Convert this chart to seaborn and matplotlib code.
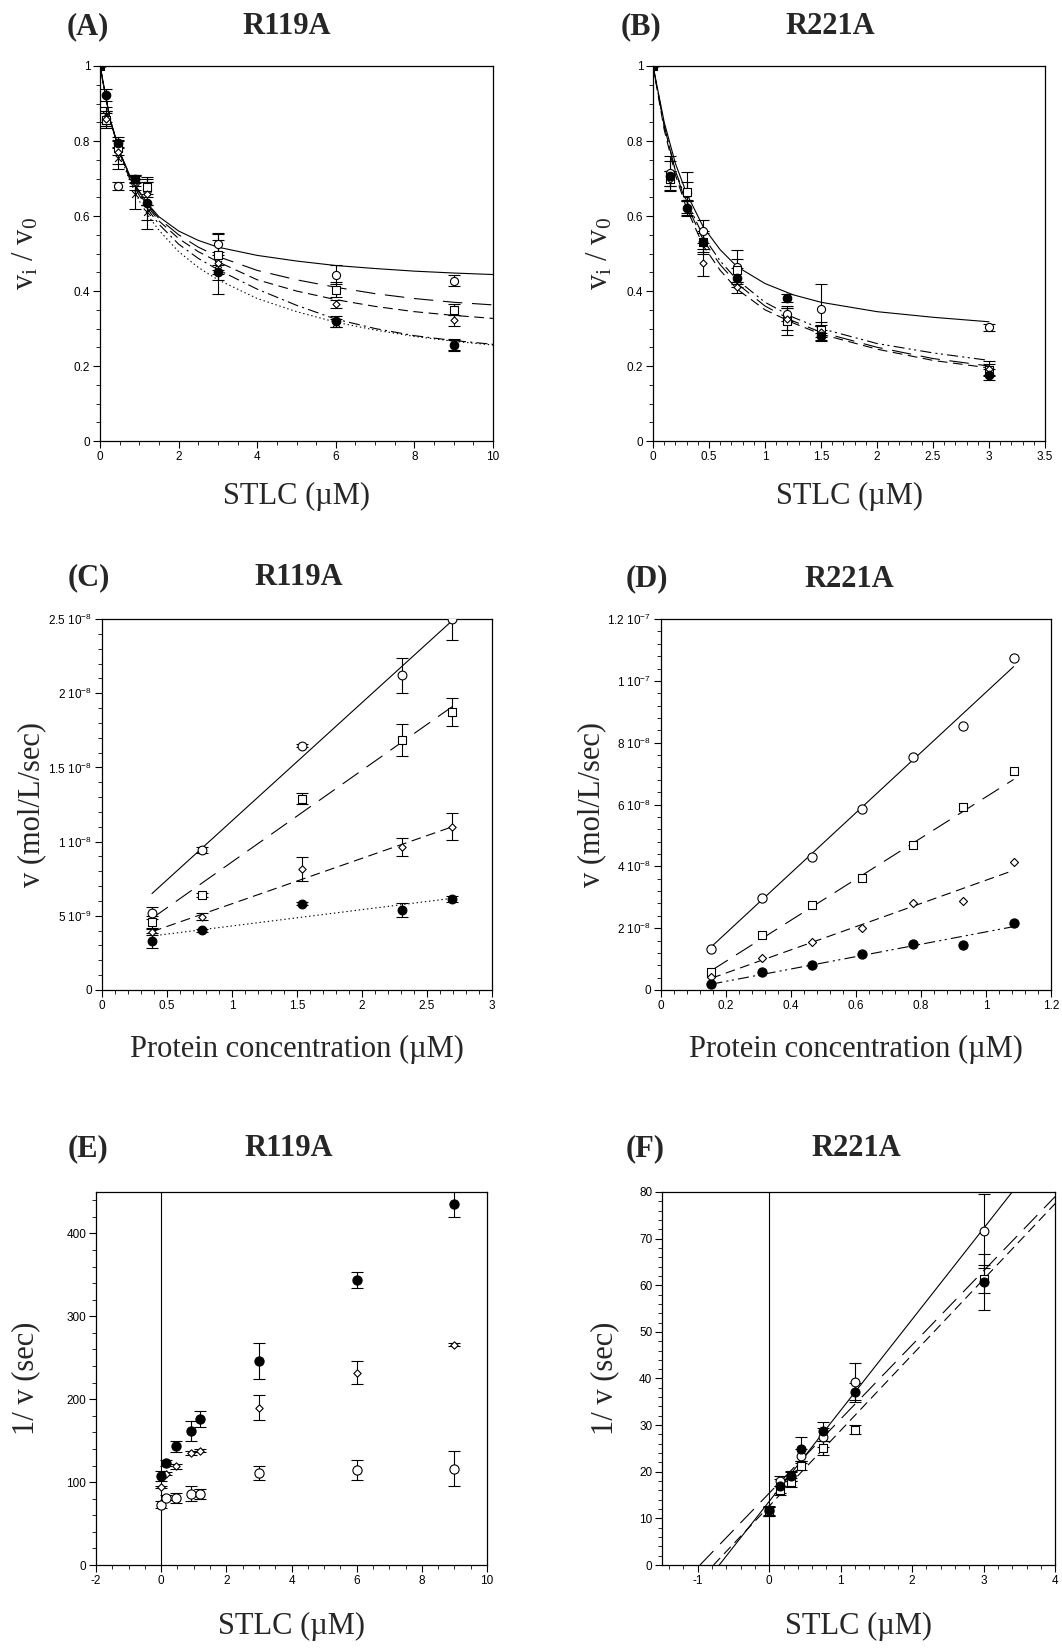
import numpy as np
import matplotlib
matplotlib.use("Agg")
import matplotlib.pyplot as plt
import seaborn as sns
from matplotlib.ticker import MultipleLocator

# ---------------- data ----------------
# (A) R119A  vi/v0 vs STLC
a_x = [0, 0.15, 0.45, 0.9, 1.2, 3, 6, 9]
a_circle = [1, 0.86, 0.68, 0.69, 0.67, 0.526, 0.444, 0.428]
a_circle_err = [0, 0.02, 0.01, 0.02, 0.02, 0.03, 0.025, 0.015]
a_square = [1, 0.855, 0.782, 0.698, 0.678, 0.495, 0.404, 0.35]
a_square_err = [0, 0.02, 0.02, 0.01, 0.02, 0.04, 0.02, 0.015]
a_diamond = [1, 0.86, 0.77, 0.69, 0.66, 0.475, 0.366, 0.322]
a_diamond_err = [0, 0.02, 0.03, 0.01, 0.03, 0.03, 0.01, 0.015]
a_filled = [1, 0.923, 0.796, 0.70, 0.635, 0.45, 0.319, 0.257]
a_filled_err = [0, 0.015, 0.015, 0.01, 0.07, 0.02, 0.015, 0.015]
a_cross = [1, 0.87, 0.755, 0.66, 0.61, 0.473, 0.315, 0.255]
a_cross_err = [0, 0.02, 0.03, 0.04, 0.02, 0.08, 0.01, 0.015]
# fitted curves
a_fit_x = [0, 0.25, 0.5, 0.75, 1, 1.25, 1.5, 2, 2.5, 3, 4, 5, 6, 7, 8, 9, 10]
a_fit_solid = [1, 0.86, 0.77, 0.71, 0.665, 0.628, 0.598, 0.56, 0.535, 0.517, 0.495, 0.48, 0.468, 0.46, 0.453, 0.448, 0.444]
a_fit_long = [1, 0.86, 0.77, 0.71, 0.663, 0.625, 0.593, 0.55, 0.517, 0.492, 0.455, 0.43, 0.41, 0.393, 0.38, 0.37, 0.363]
a_fit_dash = [1, 0.86, 0.77, 0.705, 0.66, 0.62, 0.587, 0.54, 0.505, 0.478, 0.43, 0.40, 0.377, 0.359, 0.345, 0.335, 0.327]
a_fit_dashdot = [1, 0.86, 0.77, 0.70, 0.655, 0.613, 0.578, 0.525, 0.487, 0.457, 0.405, 0.362, 0.325, 0.30, 0.281, 0.268, 0.258]
a_fit_dot = [1, 0.86, 0.765, 0.695, 0.64, 0.597, 0.562, 0.505, 0.463, 0.43, 0.38, 0.345, 0.317, 0.296, 0.279, 0.266, 0.256]

# (B) R221A  vi/v0 vs STLC
b_x = [0, 0.15, 0.3, 0.45, 0.75, 1.2, 1.5, 3]
b_circle = [1, 0.715, 0.662, 0.559, 0.465, 0.34, 0.353, 0.303]
b_circle_err = [0, 0.045, 0.055, 0.03, 0.045, 0.02, 0.065, 0.01]
b_square = [1, 0.70, 0.665, 0.53, 0.455, 0.319, 0.297, 0.19]
b_square_err = [0, 0.02, 0.025, 0.03, 0.03, 0.035, 0.02, 0.015]
b_diamond = [1, 0.70, 0.62, 0.476, 0.41, 0.325, 0.29, 0.193]
b_diamond_err = [0, 0.02, 0.02, 0.035, 0.015, 0.03, 0.02, 0.02]
b_filled = [1, 0.706, 0.622, 0.53, 0.436, 0.382, 0.281, 0.177]
b_filled_err = [0, 0.04, 0.02, 0.025, 0.025, 0.01, 0.015, 0.015]
b_fit_x = [0, 0.1, 0.2, 0.3, 0.45, 0.6, 0.75, 1, 1.25, 1.5, 2, 2.5, 3]
b_fit_solid = [1, 0.85, 0.74, 0.66, 0.57, 0.51, 0.465, 0.42, 0.39, 0.37, 0.345, 0.33, 0.318]
b_fit_long = [1, 0.84, 0.72, 0.63, 0.535, 0.47, 0.42, 0.36, 0.32, 0.29, 0.25, 0.22, 0.20]
b_fit_dash = [1, 0.83, 0.71, 0.62, 0.52, 0.455, 0.405, 0.35, 0.315, 0.285, 0.245, 0.215, 0.195]
b_fit_dashdot = [1, 0.84, 0.72, 0.64, 0.545, 0.48, 0.43, 0.37, 0.33, 0.30, 0.26, 0.235, 0.215]

# (C) R119A  v vs protein concentration
c_x = [0.385, 0.77, 1.54, 2.31, 2.695]
c_circle = [5.2e-9, 9.43e-9, 16.46e-9, 21.2e-9, 25.0e-9]
c_circle_err = [0.4e-9, 0.2e-9, 0.1e-9, 1.2e-9, 1.4e-9]
c_square = [4.6e-9, 6.4e-9, 12.9e-9, 16.85e-9, 18.75e-9]
c_square_err = [0.4e-9, 0.15e-9, 0.35e-9, 1.1e-9, 0.95e-9]
c_diamond = [3.9e-9, 4.94e-9, 8.18e-9, 9.66e-9, 11.0e-9]
c_diamond_err = [0.2e-9, 0.25e-9, 0.8e-9, 0.6e-9, 0.9e-9]
c_filled = [3.32e-9, 4.04e-9, 5.8e-9, 5.39e-9, 6.13e-9]
c_filled_err = [0.5e-9, 0.1e-9, 0.1e-9, 0.45e-9, 0.2e-9]
c_fit_x = [0.385, 2.695]
c_fit_solid = [6.5e-9, 24.9e-9]
c_fit_long = [4.83e-9, 19.1e-9]
c_fit_dash = [3.93e-9, 11.0e-9]
c_fit_dot = [3.64e-9, 6.18e-9]

# (D) R221A  v vs protein concentration
d_x = [0.155, 0.31, 0.465, 0.62, 0.775, 0.93, 1.085]
d_circle = [1.33e-8, 2.99e-8, 4.29e-8, 5.84e-8, 7.54e-8, 8.54e-8, 10.75e-8]
d_square = [0.57e-8, 1.78e-8, 2.76e-8, 3.61e-8, 4.68e-8, 5.91e-8, 7.07e-8]
d_diamond = [0.43e-8, 1.03e-8, 1.55e-8, 2.0e-8, 2.81e-8, 2.89e-8, 4.15e-8]
d_filled = [0.19e-8, 0.57e-8, 0.8e-8, 1.15e-8, 1.5e-8, 1.46e-8, 2.16e-8]
d_fit_x = [0.155, 1.085]
d_fit_solid = [1.4e-8, 10.46e-8]
d_fit_long = [0.63e-8, 6.81e-8]
d_fit_dash = [0.38e-8, 3.87e-8]
d_fit_dashdot = [0.19e-8, 2.05e-8]

# (E) R119A  1/v vs STLC
e_x = [0, 0.15, 0.45, 0.9, 1.2, 3, 6, 9]
e_filled = [107, 123, 143, 162, 176, 246, 344, 436]
e_filled_err = [6, 4, 7, 12, 10, 22, 10, 16]
e_diamond = [94, 110, 119, 135, 138, 190, 232, 266]
e_diamond_err = [1, 2, 3, 2, 2, 15, 14, 2]
e_circle = [73, 81, 81, 86, 86, 111, 115, 116]
e_circle_err = [4, 3, 6, 9, 6, 9, 12, 21]

# (F) R221A  1/v vs STLC
f_x = [0, 0.15, 0.3, 0.45, 0.75, 1.2, 3]
f_circle = [11.5, 18.0, 19.0, 23.4, 27.4, 39.3, 71.6]
f_circle_err = [1, 1, 1, 1.5, 2, 4, 8]
f_square = [11.5, 16.0, 17.7, 21.3, 25.2, 29.0, 61.4]
f_square_err = [1, 1, 1, 1, 1.5, 1, 3]
f_filled = [11.75, 17.0, 19.1, 24.9, 28.65, 37.0, 60.7]
f_filled_err = [1, 1.5, 1, 2.5, 2, 2, 6]
f_fit_solid_x = [-0.70, 3.4]
f_fit_solid = [0, 80]
f_fit_long_x = [-0.97, 4]
f_fit_long = [0, 79]
f_fit_dash_x = [-0.78, 4]
f_fit_dash = [0, 77.5]

# tick labels
ab_y_ticks = [0, 0.2, 0.4, 0.6, 0.8, 1]
ab_y_labels = ["0", "0.2", "0.4", "0.6", "0.8", "1"]
a_x_ticks = [0, 2, 4, 6, 8, 10]
a_x_labels = ["0", "2", "4", "6", "8", "10"]
b_x_ticks = [0, 0.5, 1, 1.5, 2, 2.5, 3, 3.5]
b_x_labels = ["0", "0.5", "1", "1.5", "2", "2.5", "3", "3.5"]
c_x_ticks = [0, 0.5, 1, 1.5, 2, 2.5, 3]
c_x_labels = ["0", "0.5", "1", "1.5", "2", "2.5", "3"]
c_y_ticks = [0, 5e-9, 1e-8, 1.5e-8, 2e-8, 2.5e-8]
c_y_labels = ["0", "5 10$^{-9}$", "1 10$^{-8}$", "1.5 10$^{-8}$", "2 10$^{-8}$", "2.5 10$^{-8}$"]
d_x_ticks = [0, 0.2, 0.4, 0.6, 0.8, 1, 1.2]
d_x_labels = ["0", "0.2", "0.4", "0.6", "0.8", "1", "1.2"]
d_y_ticks = [0, 2e-8, 4e-8, 6e-8, 8e-8, 1e-7, 1.2e-7]
d_y_labels = ["0", "2 10$^{-8}$", "4 10$^{-8}$", "6 10$^{-8}$", "8 10$^{-8}$", "1 10$^{-7}$", "1.2 10$^{-7}$"]
e_x_ticks = [-2, 0, 2, 4, 6, 8, 10]
e_x_labels = ["-2", "0", "2", "4", "6", "8", "10"]
e_y_ticks = [0, 100, 200, 300, 400]
e_y_labels = ["0", "100", "200", "300", "400"]
f_x_ticks = [-1, 0, 1, 2, 3, 4]
f_x_labels = ["-1", "0", "1", "2", "3", "4"]
f_y_ticks = [0, 10, 20, 30, 40, 50, 60, 70, 80]
f_y_labels = ["0", "10", "20", "30", "40", "50", "60", "70", "80"]

# ---------------- style ----------------
sns.set_style("ticks")
plt.rcParams["font.family"] = ["Liberation Sans", "DejaVu Sans"]
plt.rcParams["mathtext.default"] = "regular"
plt.rcParams["lines.scale_dashes"] = False
plt.rcParams["axes.linewidth"] = 0.9
plt.rcParams["axes.edgecolor"] = "black"

SERIF = ["Liberation Serif", "DejaVu Serif"]
LW = 0.8
SOLID = "-"
LONG = (0, (14, 7))
DASH = (0, (7, 4))
DOT = (0, (1, 2))
DASHDOT = (0, (8, 3, 1.5, 3))
DASHDOTDOT = (0, (8, 3, 1.5, 2.5, 1.5, 3))

fig = plt.figure(figsize=(10.62, 16.5), dpi=100)
axA = fig.add_axes([0.0942, 0.7327, 0.370, 0.2273])
axB = fig.add_axes([0.6149, 0.7327, 0.3691, 0.2273])
axC = fig.add_axes([0.0960, 0.4000, 0.3672, 0.2248])
axD = fig.add_axes([0.6224, 0.4000, 0.3672, 0.2248])
axE = fig.add_axes([0.0904, 0.0515, 0.3682, 0.2261])
axF = fig.add_axes([0.6234, 0.0515, 0.3701, 0.2261])


def fit(ax, x, y, ls):
    sns.lineplot(x=x, y=y, ax=ax, color="black", lw=LW, linestyle=ls,
                 estimator=None, sort=False, legend=False)


def points(ax, x, y, err, marker, filled, size=34):
    if err is not None:
        ax.errorbar(x, y, yerr=err, fmt="none", ecolor="black",
                    elinewidth=LW, capsize=4.5, capthick=LW, zorder=3)
    face = "black" if filled else "white"
    if marker == "x":
        sns.scatterplot(x=x, y=y, ax=ax, marker="x", s=size, color="black",
                        linewidth=0.8, zorder=4, legend=False)
    else:
        sns.scatterplot(x=x, y=y, ax=ax, marker=marker, s=size, color=face,
                        edgecolor="black", linewidth=0.8, zorder=4, legend=False)


def style(ax, xlim, ylim, xt, xl, yt, yl, xminor, yminor):
    ax.set_xlim(*xlim)
    ax.set_ylim(*ylim)
    ax.set_xticks(xt, xl)
    ax.set_yticks(yt, yl)
    ax.xaxis.set_minor_locator(MultipleLocator(xminor))
    ax.yaxis.set_minor_locator(MultipleLocator(yminor))
    ax.tick_params(which="major", direction="out", length=5, width=0.8,
                   labelsize=8.5, colors="black", pad=2)
    ax.tick_params(which="minor", direction="out", length=2.8, width=0.7)
    for s in ax.spines.values():
        s.set_visible(True)
        s.set_color("black")
    ax.set_xlabel("")
    ax.set_ylabel("")


def labels(ax, xlabel, ylabel, xy, yx):
    ax.set_xlabel(xlabel, family=SERIF, fontsize=22, va="top")
    ax.set_ylabel(ylabel, family=SERIF, fontsize=22, va="center")
    ax.xaxis.set_label_coords(0.5, xy)
    ax.yaxis.set_label_coords(yx, 0.5)


# (A)
fit(axA, a_fit_x, a_fit_solid, SOLID)
fit(axA, a_fit_x, a_fit_long, LONG)
fit(axA, a_fit_x, a_fit_dash, DASH)
fit(axA, a_fit_x, a_fit_dashdot, DASHDOT)
fit(axA, a_fit_x, a_fit_dot, DOT)
points(axA, a_x, a_cross, a_cross_err, "x", False, 24)
points(axA, a_x, a_circle, a_circle_err, "o", False)
points(axA, a_x, a_square, a_square_err, "s", False, 26)
points(axA, a_x, a_diamond, a_diamond_err, "D", False, 13)
points(axA, a_x, a_filled, a_filled_err, "o", True, 38)
style(axA, (0, 10), (0, 1), a_x_ticks, a_x_labels, ab_y_ticks, ab_y_labels, 0.5, 0.05)
labels(axA, "STLC (\u00b5M)", "v$_i$ / v$_0$", -0.11, -0.19)

# (B)
fit(axB, b_fit_x, b_fit_solid, SOLID)
fit(axB, b_fit_x, b_fit_long, LONG)
fit(axB, b_fit_x, b_fit_dash, DASH)
fit(axB, b_fit_x, b_fit_dashdot, DASHDOTDOT)
points(axB, b_x, b_circle, b_circle_err, "o", False)
points(axB, b_x, b_square, b_square_err, "s", False, 26)
points(axB, b_x, b_diamond, b_diamond_err, "D", False, 13)
points(axB, b_x, b_filled, b_filled_err, "o", True, 38)
style(axB, (0, 3.5), (0, 1), b_x_ticks, b_x_labels, ab_y_ticks, ab_y_labels, 0.1, 0.05)
labels(axB, "STLC (\u00b5M)", "v$_i$ / v$_0$", -0.11, -0.135)

# (C)
fit(axC, c_fit_x, c_fit_solid, SOLID)
fit(axC, c_fit_x, c_fit_long, LONG)
fit(axC, c_fit_x, c_fit_dash, DASH)
fit(axC, c_fit_x, c_fit_dot, DOT)
points(axC, c_x, c_circle, c_circle_err, "o", False, 40)
points(axC, c_x, c_square, c_square_err, "s", False, 30)
points(axC, c_x, c_diamond, c_diamond_err, "D", False, 14)
points(axC, c_x, c_filled, c_filled_err, "o", True, 40)
style(axC, (0, 3), (0, 2.5e-8), c_x_ticks, c_x_labels, c_y_ticks, c_y_labels, 0.1, 1e-9)
labels(axC, "Protein concentration (\u00b5M)", "v (mol/L/sec)", -0.12, -0.18)

# (D)
fit(axD, d_fit_x, d_fit_solid, SOLID)
fit(axD, d_fit_x, d_fit_long, LONG)
fit(axD, d_fit_x, d_fit_dash, DASH)
fit(axD, d_fit_x, d_fit_dashdot, DASHDOTDOT)
points(axD, d_x, d_circle, None, "o", False, 44)
points(axD, d_x, d_square, None, "s", False, 38)
points(axD, d_x, d_diamond, None, "D", False, 17)
points(axD, d_x, d_filled, None, "o", True, 44)
style(axD, (0, 1.2), (0, 1.2e-7), d_x_ticks, d_x_labels, d_y_ticks, d_y_labels, 0.04, 4e-9)
labels(axD, "Protein concentration (\u00b5M)", "v (mol/L/sec)", -0.12, -0.177)

# (E)
axE.axvline(0, color="black", lw=LW)
points(axE, e_x, e_circle, e_circle_err, "o", False, 44)
points(axE, e_x, e_diamond, e_diamond_err, "D", False, 14)
points(axE, e_x, e_filled, e_filled_err, "o", True, 44)
style(axE, (-2, 10), (0, 450), e_x_ticks, e_x_labels, e_y_ticks, e_y_labels, 0.5, 20)
labels(axE, "STLC (\u00b5M)", "1/ v (sec)", -0.125, -0.18)

# (F)
axF.axvline(0, color="black", lw=LW)
fit(axF, f_fit_solid_x, f_fit_solid, SOLID)
fit(axF, f_fit_long_x, f_fit_long, LONG)
fit(axF, f_fit_dash_x, f_fit_dash, DASH)
points(axF, f_x, f_circle, f_circle_err, "o", False, 40)
points(axF, f_x, f_square, f_square_err, "s", False, 26)
points(axF, f_x, f_filled, f_filled_err, "o", True, 42)
style(axF, (-1.5, 4), (0, 80), f_x_ticks, f_x_labels, f_y_ticks, f_y_labels, 0.2, 2)
labels(axF, "STLC (\u00b5M)", "1/ v (sec)", -0.125, -0.145)

# panel letters and titles
heads = [("(A)", 0.063, 0.984, "R119A", 0.270),
         ("(B)", 0.584, 0.984, "R221A", 0.782),
         ("(C)", 0.064, 0.650, "R119A", 0.281),
         ("(D)", 0.589, 0.649, "R221A", 0.800),
         ("(E)", 0.064, 0.304, "R119A", 0.272),
         ("(F)", 0.589, 0.304, "R221A", 0.806)]
for tag, tx, ty, name, nx in heads:
    fig.text(tx, ty, tag, family=SERIF, fontweight="bold", fontsize=22,
             ha="left", va="center")
    fig.text(nx, ty, name, family=SERIF, fontweight="bold", fontsize=22,
             ha="center", va="center")

fig.savefig("out.png", dpi=100, facecolor="white")
